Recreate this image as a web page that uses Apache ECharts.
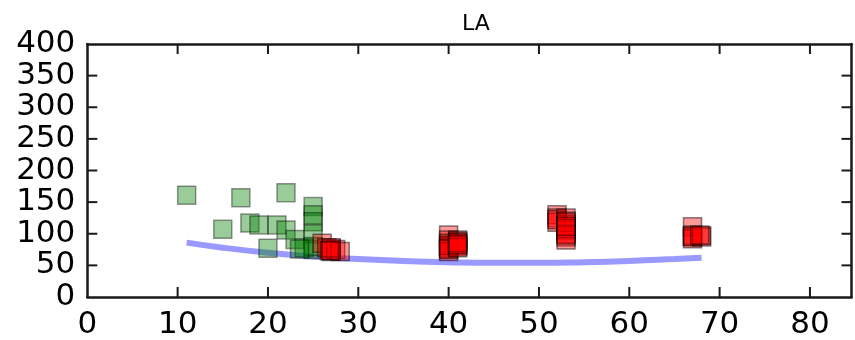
<!DOCTYPE html>
<html>
<head>
<meta charset="utf-8">
<script src="https://cdn.jsdelivr.net/npm/echarts@6/dist/echarts.min.js"></script>
<style>
  html, body { margin: 0; padding: 0; background: #fff; }
  #chart { width: 855px; height: 340px; }
</style>
</head>
<body>
<div id="chart"></div>
<script>
// Observations below age 25 (green) and at/after 25 (red), plus the fitted trend.
const greenPoints = [
  [11, 161], [17, 157], [22, 165], [15, 107], [18, 117], [19, 114],
  [21, 114], [22, 106], [23, 91], [20, 77], [25, 143], [25, 130],
  [25, 119], [25, 100], [24, 78], [25, 75], [25, 80], [23.5, 76]
];
const redPoints = [
  [26, 85], [26.5, 78], [27, 76], [27, 74], [27, 72], [27.5, 75], [28, 72], [27, 78], [26.8, 73],
  [40, 98], [40, 90], [40, 85], [40, 80], [40, 78], [40, 75], [40, 72], [40, 82], [40, 76],
  [41, 90], [41, 88], [41, 85], [41, 82], [41, 80], [41, 78], [41, 86], [41, 83],
  [52, 130], [52, 125], [52, 118], [52, 122],
  [53, 125], [53, 120], [53, 115], [53, 110], [53, 105], [53, 100], [53, 95], [53, 90],
  [53, 118], [53, 108], [53, 98], [53, 112],
  [67, 111], [67, 98], [67, 95], [67, 92], [68, 97], [68, 95], [67, 96], [67.8, 98]
];
const trendX = [11, 15, 20, 25, 30, 35, 40, 45, 50, 55, 60, 65, 68];
const trendY = [86, 78, 70, 64, 60, 57, 55, 54, 54, 55, 57, 60, 62];
const xTicks = [0, 10, 20, 30, 40, 50, 60, 70, 80];
const yTicks = [0, 50, 100, 150, 200, 250, 300, 350, 400];
const chartTitle = 'LA';

const trend = trendX.map((x, i) => [x, trendY[i]]);
const xMax = 84.6;
const yMax = 400;
const tickLen = 10;
const tickColor = '#1a1a1a';

const frameLine = { show: true, onZero: false, lineStyle: { color: tickColor, width: 2.5 } };
const tickFont = { fontFamily: 'DejaVu Sans', fontSize: 31, color: '#000' };
const onlyTicks = (list) => (value) => list.includes(value) ? String(value) : '';

function frameAxis(position, range, labelOpt) {
  return {
    type: 'value', min: range[0], max: range[1], interval: range[2], position,
    axisLine: frameLine,
    axisTick: { show: false },
    splitLine: { show: false },
    axisLabel: labelOpt || { show: false }
  };
}

// Inward tick marks on the four sides of the frame: [x, y, side]
// side 0 = bottom, 1 = top, 2 = left, 3 = right.
const tickMarks = [
  ...xTicks.slice(1).map(x => [x, 0, 0]),
  ...xTicks.slice(1).map(x => [x, yMax, 1]),
  ...yTicks.slice(1, -1).map(y => [0, y, 2]),
  ...yTicks.slice(1, -1).map(y => [xMax, y, 3])
];
const tickDir = [[0, -1], [0, 1], [1, 0], [-1, 0]];

const xRange = [0, xMax, 10];
const yRange = [0, yMax, 50];

const chart = echarts.init(document.getElementById('chart'), null, { renderer: 'canvas' });
chart.setOption({
  animation: false,
  backgroundColor: '#fff',
  title: {
    text: chartTitle,
    left: 471, textAlign: 'center',
    top: 8,
    textStyle: { fontFamily: 'DejaVu Sans', fontSize: 22, fontWeight: 'normal', color: '#000' }
  },
  grid: { left: 87.3, right: 3.5, top: 44, bottom: 42.3, containLabel: false },
  xAxis: [
    frameAxis('bottom', xRange, { ...tickFont, margin: 12, showMaxLabel: false, formatter: onlyTicks(xTicks) }),
    frameAxis('top', xRange)
  ],
  yAxis: [
    frameAxis('left', yRange, { ...tickFont, margin: 12, formatter: onlyTicks(yTicks) }),
    frameAxis('right', yRange)
  ],
  series: [
    {
      type: 'line', data: trend, smooth: true, showSymbol: false,
      xAxisIndex: 0, yAxisIndex: 0,
      lineStyle: { color: 'rgba(70,70,255,0.55)', width: 6 },
      z: 3
    },
    {
      type: 'scatter', data: greenPoints, symbol: 'rect', symbolSize: 18,
      xAxisIndex: 0, yAxisIndex: 0,
      itemStyle: { color: 'rgba(0,128,0,0.5)', borderColor: 'rgba(0,0,0,0.5)', borderWidth: 1.5 },
      z: 4
    },
    {
      type: 'scatter', data: redPoints, symbol: 'rect', symbolSize: 18,
      xAxisIndex: 0, yAxisIndex: 0,
      itemStyle: { color: 'rgba(255,0,0,0.5)', borderColor: 'rgba(0,0,0,0.6)', borderWidth: 1.5 },
      z: 5
    },
    {
      type: 'custom', coordinateSystem: 'cartesian2d',
      xAxisIndex: 0, yAxisIndex: 0,
      dimensions: ['x', 'y', 'side'],
      data: tickMarks,
      encode: { x: 0, y: 1 },
      clip: false, silent: true, z: 10,
      renderItem: (params, api) => {
        const p = api.coord([api.value(0), api.value(1)]);
        const d = tickDir[api.value(2)];
        return {
          type: 'line',
          shape: { x1: p[0], y1: p[1], x2: p[0] + d[0] * tickLen, y2: p[1] + d[1] * tickLen },
          style: { stroke: tickColor, lineWidth: 2 }
        };
      }
    }
  ]
});
</script>
</body>
</html>
